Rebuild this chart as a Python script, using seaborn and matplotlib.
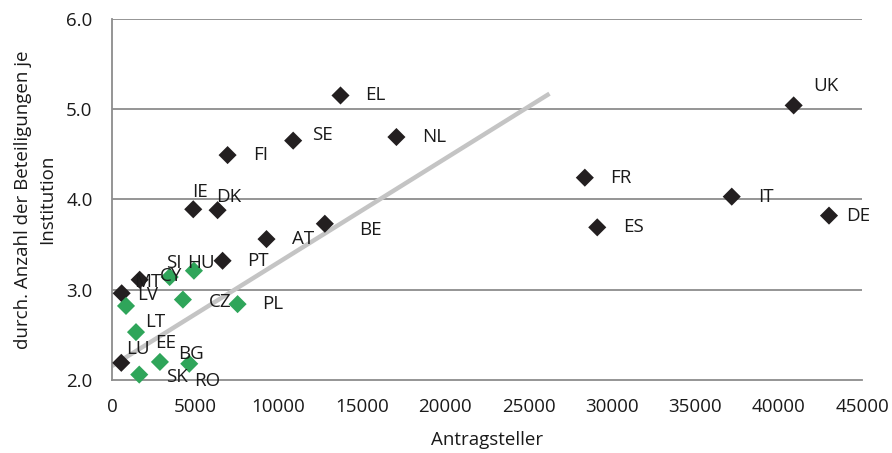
import matplotlib
matplotlib.use("Agg")
import matplotlib.pyplot as plt
import numpy as np
import pandas as pd
import seaborn as sns

# countries, applicants (x), avg. participations per institution (y)
countries = ["UK", "FR", "IT", "ES", "DE", "EL", "SE", "NL", "FI", "IE", "DK", "BE", "AT", "PT",
             "LU", "CY", "MT", "LV", "SI", "HU", "CZ", "PL", "LT", "EE", "BG", "SK", "RO"]
applicants = [40900, 28370, 37185, 29115, 43020, 13710, 10870, 17065, 6935, 4875, 6335, 12770, 9270, 6635,
              557, 1660, 580, 840, 3460, 4915, 4255, 7535, 1440, 2875, 4635, 1635, 3410]
participations = [5.04, 4.24, 4.03, 3.69, 3.82, 5.15, 4.65, 4.69, 4.49, 3.89, 3.88, 3.73, 3.56, 3.32,
                  2.19, 3.11, 2.96, 2.82, 3.14, 3.21, 2.89, 2.84, 2.53, 2.20, 2.18, 2.06, 1.95]
groups = ["a"] * 17 + ["b"] * 10

# trend line end points
trend_x = [0, 26250]
trend_y = [2.155, 5.17]

# label offsets in pixels (dx to text left edge, dy to text centre)
label_offsets = {
    "UK": (20, 19), "FR": (25, 0), "IT": (26, 0), "ES": (26, 0), "DE": (17, 0),
    "EL": (25, 0), "SE": (19, 6), "NL": (26, 0), "FI": (26, 0), "IE": (-1, 17),
    "DK": (-1, 13), "BE": (34, -6), "AT": (26, 0), "PT": (25, 0), "LU": (5, 14),
    "CY": (20, 4), "MT": (12, 11), "LV": (11, 11), "SI": (-4, 14), "HU": (-7, 8),
    "CZ": (26, -2), "PL": (25, 0), "LT": (9, 10), "EE": (-5, 19), "BG": (-11, 10),
    "SK": (27, -2), "RO": (25, 4),
}

df = pd.DataFrame({"land": countries, "x": applicants, "y": participations, "gruppe": groups})

sns.set_style("white")
plt.rcParams["font.family"] = ["Open Sans", "DejaVu Sans"]

fs = 13.5
txt_col = "#1a1a1a"
grid_col = "#8c8c8c"

fig = plt.figure(figsize=(8.92, 4.53), dpi=100)
ax = fig.add_axes([112 / 892, 1 - 380 / 453, 750 / 892, (380 - 18.7) / 453])

for yv in [3.0, 4.0, 5.0, 6.0]:
    ax.axhline(yv, color=grid_col, lw=1.3, zorder=1)

ax.plot(trend_x, trend_y, color="#c4c4c4", lw=3.2, solid_capstyle="butt", zorder=2)

# Excel hides markers outside the axis range, labels stay
visible = df[df["y"] >= 2.0]
sns.scatterplot(data=visible, x="x", y="y", hue="gruppe", palette={"a": "#231f20", "b": "#2fa55a"},
                marker="D", s=85, linewidth=0, legend=False, ax=ax, zorder=3, clip_on=False)

for _, row in df.iterrows():
    dx, dy = label_offsets[row["land"]]
    ax.annotate(row["land"], (row["x"], row["y"]), xytext=(dx, dy), textcoords="offset pixels",
                ha="left", va="center", fontsize=fs, color=txt_col, zorder=4, annotation_clip=False)

ax.set_xlim(0, 45000)
ax.set_ylim(2.0, 6.0)
ax.set_xticks(np.arange(0, 45001, 5000))
ax.set_yticks([2.0, 3.0, 4.0, 5.0, 6.0])
ax.set_yticklabels(["2.0", "3.0", "4.0", "5.0", "6.0"])
ax.tick_params(axis="both", length=0, labelsize=fs, colors=txt_col)
ax.tick_params(axis="x", pad=13)
ax.tick_params(axis="y", pad=14)

for side in ["top", "right"]:
    ax.spines[side].set_visible(False)
for side in ["left", "bottom"]:
    ax.spines[side].set_color(grid_col)
    ax.spines[side].set_linewidth(1.3)

ax.set_xlabel("Antragsteller", fontsize=fs, color=txt_col, labelpad=11)
ax.set_ylabel("durch. Anzahl der Beteiligungen je\nInstitution", fontsize=fs, color=txt_col,
              labelpad=7, linespacing=1.45)

fig.savefig("out.png", dpi=100)
